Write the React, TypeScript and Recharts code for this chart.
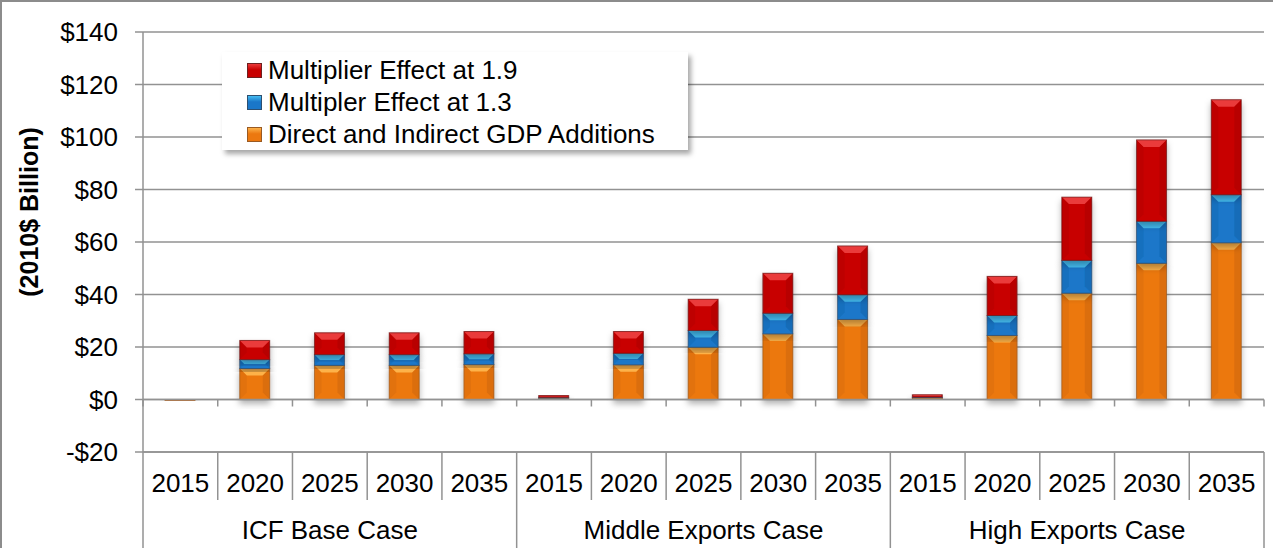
import React from "react";
import { Bar, BarChart, CartesianGrid, Legend, ReferenceLine, XAxis, YAxis } from "recharts";

const GROUPS = ["ICF Base Case", "Middle Exports Case", "High Exports Case"];
const YEARS = ["2015", "2020", "2025", "2030", "2035"];
const Y_TICKS = [-20, 0, 20, 40, 60, 80, 100, 120, 140];

// $ billion (bottom -> top)
const DIRECT = [-0.4, 11.8, 13.0, 13.0, 13.3, 0.5, 13.2, 19.9, 25.0, 30.5, 0.6, 24.4, 40.5, 51.9, 59.7];
const MULT_13 = [0, 3.4, 4.1, 4.1, 4.1, 0.3, 4.4, 6.4, 7.9, 9.4, 0.3, 7.6, 12.5, 16.0, 18.3];
const MULT_19 = [0, 7.3, 8.3, 8.3, 8.5, 0.7, 8.3, 11.9, 15.2, 18.6, 0.9, 14.9, 24.1, 31.0, 36.2];

const data = GROUPS.flatMap((g, gi) =>
  YEARS.map((year, yi) => {
    const i = gi * 5 + yi;
    return { group: g, year, direct: DIRECT[i], mult13: MULT_13[i], mult19: MULT_19[i] };
  })
);

const FONT = "'Liberation Sans', Arial, sans-serif";
const GRID = "#929292";
const W = 1273;
const H = 548;

const PALETTE = {
  orange: { base: "#ec780f", light: "#fdb24a", dark: "#c45f08", edge: "#9a5a22" },
  blue: { base: "#1a77c9", light: "#45bdf2", dark: "#135d9f", edge: "#2d4f70" },
  red: { base: "#c80000", light: "#ea3a3a", dark: "#a00000", edge: "#6e2020" },
};

const bevel = (p: typeof PALETTE.orange) => (props: any) => {
  let { x, y, width, height } = props;
  if (height == null || width == null) return null;
  if (height < 0) {
    y += height;
    height = -height;
  }
  if (height < 0.01) return null;
  const b = Math.min(7, height / 2);
  return (
    <g filter="url(#barShadow)">
      <rect x={x} y={y} width={width} height={height} fill={p.base} />
      <polygon points={`${x},${y} ${x + width},${y} ${x + width - b},${y + b} ${x + b},${y + b}`} fill={p.light} />
      <polygon points={`${x},${y} ${x + b},${y + b} ${x + b},${y + height - b} ${x},${y + height}`} fill={p.dark} opacity={0.25} />
      <polygon
        points={`${x + width},${y} ${x + width - b},${y + b} ${x + width - b},${y + height - b} ${x + width},${y + height}`}
        fill={p.dark}
        opacity={0.4}
      />
      <rect x={x} y={y} width={width} height={height} fill="none" stroke={p.edge} strokeWidth={1} strokeOpacity={0.7} />
    </g>
  );
};

const YearTick = (props: any) => {
  const { x, y, payload } = props;
  const i = payload?.index ?? props.index ?? 0;
  const half = payload?.offset || (W - 143 - 9) / YEARS.length / GROUPS.length / 2;
  const groupEnd = (i + 1) % YEARS.length === 0;
  return (
    <g>
      {i === 0 && <line x1={x - half} y1={y} x2={x - half} y2={y + 96} stroke={GRID} strokeWidth={1.5} />}
      <line x1={x + half} y1={y} x2={x + half} y2={y + (groupEnd ? 96 : 48)} stroke={GRID} strokeWidth={1.5} />
      <text x={x} y={y + 31} textAnchor="middle" dominantBaseline="central" fontSize={26} fill="#000" fontFamily={FONT}>
        {payload.value}
      </text>
      {i % YEARS.length === 2 && (
        <text x={x} y={y + 78} textAnchor="middle" dominantBaseline="central" fontSize={26} fill="#000" fontFamily={FONT}>
          {GROUPS[Math.floor(i / YEARS.length)]}
        </text>
      )}
    </g>
  );
};

const ZeroLine = (props: any) => {
  const { x1, x2, y1 } = props;
  const n = YEARS.length * GROUPS.length;
  const step = (x2 - x1) / n;
  return (
    <g>
      <line x1={x1} y1={y1} x2={x2} y2={y1} stroke={GRID} strokeWidth={1.5} />
      {Array.from({ length: n + 1 }).map((_, k) => (
        <line key={k} x1={x1 + k * step} y1={y1} x2={x1 + k * step} y2={y1 + 7} stroke={GRID} strokeWidth={1.5} />
      ))}
    </g>
  );
};

const LegendBox = (props: any) => {
  const items = [...(props.payload || [])].reverse();
  return (
    <div
      style={{
        background: "#fff",
        boxShadow: "3px 4px 5px rgba(0,0,0,0.35)",
        padding: "2px 0 4px 25px",
        boxSizing: "border-box",
        height: 98,
        fontFamily: FONT,
      }}
    >
      {items.map((it: any) => {
        const p = it.dataKey === "direct" ? PALETTE.orange : it.dataKey === "mult13" ? PALETTE.blue : PALETTE.red;
        return (
          <div key={it.dataKey} style={{ display: "flex", alignItems: "center", height: 32, fontSize: 26, color: "#000" }}>
            <span
              style={{
                display: "inline-block",
                width: 15,
                height: 15,
                marginRight: 6,
                background: `linear-gradient(180deg, ${p.light} 0%, ${p.base} 45%, ${p.base} 100%)`,
                border: `1px solid ${p.edge}`,
                boxSizing: "border-box",
              }}
            />
            {it.value}
          </div>
        );
      })}
    </div>
  );
};

export default function App() {
  return (
    <div style={{ position: "absolute", left: 0, top: 0, width: W, height: H, background: "#fff", overflow: "hidden" }}>
      <BarChart
        width={W}
        height={H}
        data={data}
        margin={{ top: 32, right: 9, bottom: 0, left: 0 }}
        stackOffset="sign"
        barSize={30}
      >
        <defs>
          <filter id="barShadow" x="-30%" y="-30%" width="160%" height="160%">
            <feDropShadow dx="0" dy="4" stdDeviation="3" floodColor="#000" floodOpacity="0.3" />
          </filter>
        </defs>
        <CartesianGrid vertical={false} stroke={GRID} strokeWidth={1.5} />
        <XAxis
          dataKey="year"
          height={96}
          interval={0}
          tickLine={false}
          tickSize={0}
          tickMargin={0}
          axisLine={{ stroke: GRID, strokeWidth: 1.5 }}
          tick={<YearTick />}
        />
        <YAxis
          width={143}
          domain={[-20, 140]}
          ticks={Y_TICKS}
          interval={0}
          tickSize={8}
          tickMargin={17}
          tickFormatter={(v: number) => (v < 0 ? `-$${-v}` : `$${v}`)}
          tick={{ fontSize: 26, fill: "#000", fontFamily: FONT }}
          axisLine={{ stroke: GRID, strokeWidth: 1.5 }}
          tickLine={{ stroke: GRID, strokeWidth: 1.5 }}
          label={{
            content: () => (
              <text
                transform="translate(29,212) rotate(-90)"
                textAnchor="middle"
                dominantBaseline="central"
                fontSize={25}
                fontWeight="bold"
                fontFamily={FONT}
                fill="#000"
              >
                (2010$ Billion)
              </text>
            ),
          }}
        />
        <ReferenceLine y={0} shape={<ZeroLine />} />
        <Legend
          layout="horizontal"
          verticalAlign="middle"
          align="center"
          content={<LegendBox />}
          wrapperStyle={{ left: 222, top: 52, width: 466, height: 98 }}
        />
        <Bar dataKey="direct" name="Direct and Indirect GDP Additions" stackId="a" fill={PALETTE.orange.base} shape={bevel(PALETTE.orange)} isAnimationActive={false} />
        <Bar dataKey="mult13" name="Multipler Effect at 1.3" stackId="a" fill={PALETTE.blue.base} shape={bevel(PALETTE.blue)} isAnimationActive={false} />
        <Bar dataKey="mult19" name="Multiplier Effect at 1.9" stackId="a" fill={PALETTE.red.base} shape={bevel(PALETTE.red)} isAnimationActive={false} />
      </BarChart>
      <div
        style={{
          position: "absolute",
          left: 0,
          top: 0,
          width: W,
          height: H,
          boxSizing: "border-box",
          borderLeft: "2px solid #8c8c8c",
          borderTop: "2px solid #8c8c8c",
          pointerEvents: "none",
        }}
      />
    </div>
  );
}
